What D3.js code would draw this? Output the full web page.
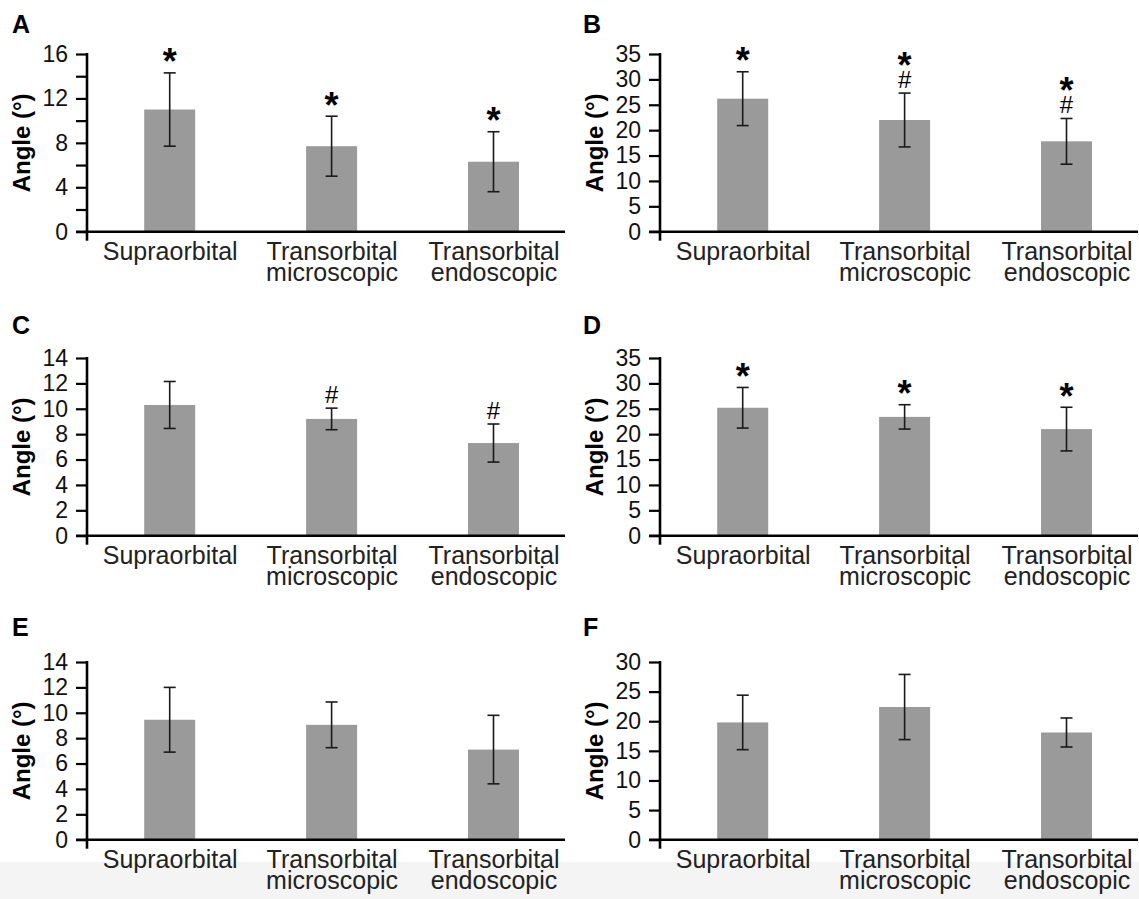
<!DOCTYPE html>
<html>
<head>
<meta charset="utf-8">
<script src="https://cdn.jsdelivr.net/npm/d3@7"></script>
<style>
  body { margin: 0; background: #fff; }
  svg { display: block; font-family: "Liberation Sans", Arial, Helvetica, sans-serif; }
</style>
</head>
<body>
<div id="chart"></div>
<script>
'use strict';

// categories (two-line labels)
const categories = ["Supraorbital", "Transorbital microscopic", "Transorbital endoscopic"];

// panel A
const meanA = [11.0, 7.7, 6.3];
const sdA = [3.3, 2.7, 2.7];
const markA = ["*", "*", "*"];
const ticksA = [0, 2, 4, 6, 8, 10, 12, 14, 16];
const labelsA = [0, 4, 8, 12, 16];

// panel B
const meanB = [26.2, 22.0, 17.8];
const sdB = [5.3, 5.3, 4.5];
const markB = ["*", "*#", "*#"];
const ticksB = [0, 5, 10, 15, 20, 25, 30, 35];

// panel C
const meanC = [10.3, 9.2, 7.3];
const sdC = [1.85, 0.85, 1.5];
const markC = ["", "#", "#"];
const ticksC = [0, 2, 4, 6, 8, 10, 12, 14];

// panel D
const meanD = [25.2, 23.4, 21.0];
const sdD = [4.0, 2.4, 4.3];
const markD = ["*", "*", "*"];
const ticksD = [0, 5, 10, 15, 20, 25, 30, 35];

// panel E
const meanE = [9.45, 9.05, 7.1];
const sdE = [2.55, 1.8, 2.7];
const markE = ["", "", ""];
const ticksE = [0, 2, 4, 6, 8, 10, 12, 14];

// panel F
const meanF = [19.8, 22.4, 18.1];
const sdF = [4.6, 5.5, 2.45];
const markF = ["", "", ""];
const ticksF = [0, 5, 10, 15, 20, 25, 30];

const panels = [
  {name: "A", mean: meanA, sd: sdA, mark: markA, ticks: ticksA, labels: labelsA, col: 0, row: 0},
  {name: "B", mean: meanB, sd: sdB, mark: markB, ticks: ticksB, labels: ticksB, col: 1, row: 0},
  {name: "C", mean: meanC, sd: sdC, mark: markC, ticks: ticksC, labels: ticksC, col: 0, row: 1},
  {name: "D", mean: meanD, sd: sdD, mark: markD, ticks: ticksD, labels: ticksD, col: 1, row: 1},
  {name: "E", mean: meanE, sd: sdE, mark: markE, ticks: ticksE, labels: ticksE, col: 0, row: 2},
  {name: "F", mean: meanF, sd: sdF, mark: markF, ticks: ticksF, labels: ticksF, col: 1, row: 2}
];

const W = 1139, H = 899;
const colX = [87, 660];          // y-axis position of each column
const rowTop = [54, 358, 662];   // top of y-axis for each row
const letterY = [33, 334, 636];
const plotH = 177.7;
const axisLen = 478;
const barW = 51;

const svg = d3.select("#chart").append("svg")
  .attr("width", W).attr("height", H);

svg.append("rect").attr("width", W).attr("height", H).attr("fill", "#fff");
// faint grey strip at the very bottom of the scanned figure
svg.append("rect").attr("x", 0).attr("y", 862).attr("width", W).attr("height", H - 862).attr("fill", "#f4f4f4");

panels.forEach(function(p) {
  const x0 = colX[p.col];
  const y0 = rowTop[p.row];
  const g = svg.append("g").attr("transform", "translate(" + x0 + "," + y0 + ")");

  const y = d3.scaleLinear()
    .domain([0, d3.max(p.ticks)])
    .range([plotH, 0]);

  const x = d3.scalePoint()
    .domain(categories)
    .range([82.7, 406.5]);

  // panel letter
  svg.append("text")
    .attr("x", x0 - 75 + (p.col ? -2 : 0))
    .attr("y", letterY[p.row])
    .style("font-size", "25px")
    .style("font-weight", "bold")
    .text(p.name);

  // y axis title
  g.append("text")
    .attr("transform", "translate(-57," + (plotH / 2) + ") rotate(-90)")
    .style("text-anchor", "middle")
    .style("font-size", "24px")
    .style("font-weight", "bold")
    .text("Angle (°)");

  // bars
  g.selectAll("rect.bar")
    .data(p.mean)
    .enter()
    .append("rect")
      .attr("class", "bar")
      .attr("x", (d, i) => x(categories[i]) - barW / 2)
      .attr("y", d => y(d))
      .attr("width", barW)
      .attr("height", d => plotH - y(d))
      .style("fill", "#9a9a9a");

  // error bars
  const err = g.selectAll("g.err")
    .data(p.mean)
    .enter()
    .append("g")
      .attr("class", "err")
      .style("stroke", "#1a1a1a")
      .style("stroke-width", 1.6);

  err.append("line")
    .attr("x1", (d, i) => x(categories[i]))
    .attr("x2", (d, i) => x(categories[i]))
    .attr("y1", (d, i) => y(d + p.sd[i]))
    .attr("y2", (d, i) => y(d - p.sd[i]));
  err.append("line")
    .attr("x1", (d, i) => x(categories[i]) - 6)
    .attr("x2", (d, i) => x(categories[i]) + 6)
    .attr("y1", (d, i) => y(d + p.sd[i]))
    .attr("y2", (d, i) => y(d + p.sd[i]));
  err.append("line")
    .attr("x1", (d, i) => x(categories[i]) - 6)
    .attr("x2", (d, i) => x(categories[i]) + 6)
    .attr("y1", (d, i) => y(d - p.sd[i]))
    .attr("y2", (d, i) => y(d - p.sd[i]));

  // significance marks
  p.mark.forEach(function(m, i) {
    if (!m) return;
    const cx = x(categories[i]);
    const top = y(p.mean[i] + p.sd[i]);
    let starBase = top + 1.5;
    if (m.indexOf("#") >= 0) {
      const hashBase = top - 5.5;
      g.append("text")
        .attr("x", cx).attr("y", hashBase)
        .style("text-anchor", "middle")
        .style("font-size", "24px")
        .text("#");
      starBase = hashBase - 9.5;
    }
    if (m.indexOf("*") >= 0) {
      g.append("text")
        .attr("x", cx).attr("y", starBase)
        .style("text-anchor", "middle")
        .style("font-size", "36px")
        .style("font-weight", "bold")
        .text("*");
    }
  });

  // y axis
  const yAxis = g.append("g")
    .call(d3.axisLeft(y)
      .tickValues(p.ticks)
      .tickSize(11)
      .tickSizeOuter(0)
      .tickPadding(8)
      .tickFormat(d => p.labels.indexOf(d) >= 0 ? d : ""));
  yAxis.select(".domain").remove();
  yAxis.selectAll(".tick line").style("stroke", "#000").style("stroke-width", 2.2);
  yAxis.selectAll(".tick text")
    .style("font-size", "23px")
    .style("font-family", "\"Liberation Sans\", Arial, sans-serif")
    .style("fill", "#111");

  g.append("line")
    .attr("x1", 0).attr("x2", 0)
    .attr("y1", y(d3.max(p.ticks)) - 1).attr("y2", plotH + 9)
    .style("stroke", "#000").style("stroke-width", 2.6);

  // x axis
  g.append("line")
    .attr("x1", -11).attr("x2", axisLen)
    .attr("y1", plotH).attr("y2", plotH)
    .style("stroke", "#000").style("stroke-width", 2.6);

  const xAxis = g.append("g")
    .attr("transform", "translate(0," + plotH + ")")
    .call(d3.axisBottom(x).tickSize(0).tickSizeOuter(0).tickPadding(0));
  xAxis.select(".domain").remove();
  xAxis.selectAll(".tick text").each(function(d) {
    const t = d3.select(this);
    const parts = d.split(" ");
    t.text(null)
      .attr("y", 0).attr("dy", null)
      .style("font-size", "25px")
      .style("font-family", "\"Liberation Sans\", Arial, sans-serif")
      .style("fill", "#222");
    parts.forEach(function(s, k) {
      t.append("tspan")
        .attr("x", 0)
        .attr("y", 28.5 + k * 21)
        .text(s);
    });
  });
});
</script>
</body>
</html>
